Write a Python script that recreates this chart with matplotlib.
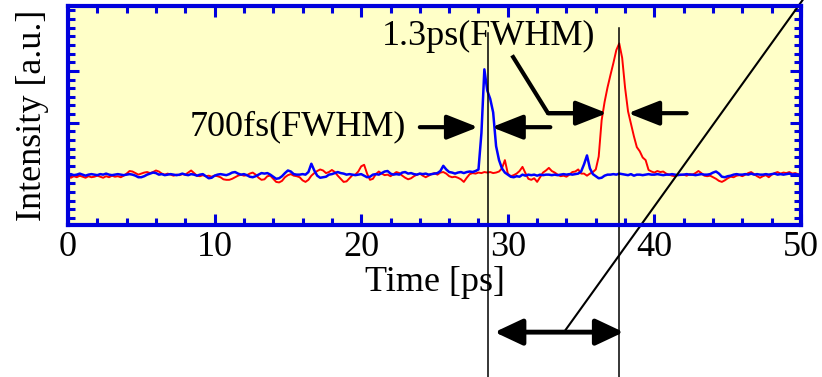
import numpy as np
import matplotlib
matplotlib.use('Agg')
import matplotlib.pyplot as plt
from matplotlib.transforms import blended_transform_factory

plt.rcParams['font.family'] = ['Liberation Serif', 'DejaVu Serif']

# sampling grid of the two traces (ps)
time_ps = np.round(np.arange(0, 50.01, 0.2), 1)

# blue trace (700 fs pulse)
blue = [
    0.00, 0.01, -0.01, 0.00, 0.02, 0.00, -0.02, 0.00, 0.01, 0.00, -0.01, 0.01, 0.00, 0.02, 0.00, -0.01, 0.00, 0.01, 0.00, -0.01, 0.00, 0.01, 0.00, -0.02, -0.05,
    -0.05, -0.03, 0.00, 0.02, 0.04, 0.03, 0.00, 0.01, -0.01, 0.00, 0.01, 0.00, -0.01, 0.00, 0.02, 0.00, -0.01, 0.01, 0.00, -0.02, 0.00, 0.01, -0.03, -0.07, -0.06,
    -0.02, 0.00, 0.01, 0.00, -0.01, 0.01, 0.04, 0.05, 0.02, 0.00, 0.01, -0.01, -0.04, -0.05, -0.03, 0.00, 0.03, 0.02, 0.03, 0.00, -0.04, -0.08, -0.07, -0.03, 0.03,
    0.08, 0.06, 0.01, 0.00, 0.00, 0.01, 0.00, 0.05, 0.21, 0.08, -0.02, -0.06, -0.05, -0.04, 0.00, 0.01, 0.03, 0.05, 0.03, 0.02, 0.00, 0.01, 0.00, -0.01, 0.00,
    0.01, -0.02, -0.05, -0.04, 0.00, 0.01, 0.00, 0.03, 0.06, 0.07, 0.02, 0.00, 0.01, 0.00, 0.04, 0.05, 0.02, 0.03, 0.01, 0.00, 0.02, 0.01, 0.02, 0.00, 0.01,
    0.02, 0.03, 0.07, 0.17, 0.10, 0.05, 0.04, 0.02, 0.04, 0.05, 0.03, 0.05, 0.06, 0.05, 0.07, 0.10, 0.80, 2.03, 1.62, 1.46, 1.20, 0.55, 0.28, 0.12, 0.04,
    0.00, -0.04, -0.05, -0.03, -0.04, 0.00, -0.02, 0.00, -0.01, 0.00, -0.02, 0.00, -0.01, 0.00, 0.00, -0.01, 0.00, -0.01, 0.00, 0.01, 0.00, 0.01, 0.00, 0.01, 0.02,
    0.06, 0.20, 0.37, 0.12, 0.01, -0.03, -0.07, -0.06, -0.02, 0.00, 0.00, 0.01, 0.00, 0.02, 0.01, 0.00, -0.01, 0.01, -0.02, 0.00, 0.00, -0.01, 0.00, 0.01, 0.00,
    0.00, 0.01, 0.00, -0.01, 0.00, 0.00, 0.01, 0.00, -0.01, 0.00, 0.00, 0.01, 0.00, 0.00, -0.01, 0.00, 0.01, 0.00, 0.00, 0.01, 0.04, 0.06, 0.02, -0.04, -0.05,
    -0.03, -0.02, 0.00, 0.01, 0.00, 0.00, 0.01, 0.00, 0.02, 0.00, 0.01, 0.00, 0.00, 0.01, 0.00, 0.01, 0.02, 0.00, 0.01, 0.00, 0.01, 0.02, 0.00, 0.01, 0.00, 0.00,
]

# red trace (1.3 ps pulse)
red = [
    -0.04, -0.06, -0.03, -0.05, -0.02, -0.04, -0.06, -0.03, -0.05, -0.04, -0.02, -0.04, -0.06, -0.03, -0.05, -0.02, -0.04, -0.03, -0.05, -0.02, 0.02, 0.07, 0.06, 0.03, 0.00,
    0.02, 0.04, 0.05, 0.03, 0.05, 0.08, 0.06, 0.02, 0.00, 0.02, 0.00, -0.02, 0.00, -0.01, 0.01, 0.00, 0.04, 0.08, 0.03, -0.02, -0.03, -0.01, -0.03, -0.02, -0.04,
    -0.02, -0.03, -0.05, -0.09, -0.10, -0.10, -0.08, -0.05, -0.02, 0.00, -0.02, -0.01, 0.02, 0.04, 0.00, -0.06, -0.10, -0.09, -0.03, -0.02, -0.08, -0.14, -0.15, -0.12, -0.05,
    -0.01, 0.01, -0.02, -0.03, -0.05, -0.11, -0.14, -0.10, -0.02, 0.03, 0.07, 0.10, 0.08, 0.03, 0.05, 0.09, 0.05, -0.02, -0.08, -0.14, -0.13, -0.07, -0.01, 0.00, 0.06,
    0.16, 0.19, 0.02, -0.10, -0.08, 0.01, 0.06, 0.02, -0.01, 0.00, -0.03, 0.01, 0.05, 0.03, -0.02, -0.06, -0.09, -0.07, -0.03, 0.00, 0.02, -0.02, -0.05, -0.02, 0.01,
    0.03, 0.00, 0.04, 0.05, 0.02, -0.03, -0.05, -0.04, -0.06, -0.09, -0.14, -0.06, 0.01, 0.03, 0.02, 0.04, 0.03, 0.05, 0.04, 0.05, 0.03, 0.04, 0.06, 0.12, 0.28,
    0.02, -0.03, -0.01, 0.02, 0.07, 0.15, 0.03, -0.08, -0.10, -0.07, -0.14, -0.05, 0.04, 0.08, 0.13, 0.07, 0.04, 0.00, -0.03, -0.02, -0.04, 0.00, 0.05, 0.06, 0.10,
    0.02, 0.02, -0.02, 0.02, 0.05, 0.10, 0.35, 1.05, 1.40, 1.68, 1.92, 2.15, 2.40, 2.53, 2.25, 1.67, 1.22, 0.98, 0.74, 0.53, 0.45, 0.33, 0.28, 0.09, 0.06,
    0.04, 0.07, 0.05, 0.06, 0.02, 0.00, -0.02, -0.03, 0.00, -0.01, 0.00, -0.02, 0.01, 0.00, 0.03, 0.07, 0.03, -0.02, -0.03, -0.02, -0.05, -0.08, -0.12, -0.14, -0.11,
    -0.07, -0.04, -0.05, -0.02, -0.01, -0.03, 0.00, 0.03, 0.05, 0.01, -0.03, -0.06, -0.03, -0.01, -0.05, 0.00, 0.03, 0.05, 0.02, 0.04, 0.03, 0.05, 0.02, 0.03, 0.01, 0.00,
]

xticks = [0, 10, 20, 30, 40, 50]
marker_lines = [28.65, 37.6]   # the two vertical guide lines (ps)

fig = plt.figure(figsize=(8.22, 3.77), dpi=100)
ax = fig.add_axes([0.0827, 0.4019, 0.8918, 0.5821])
ax.set_facecolor('#FFFFC8')

ax.plot(time_ps, red, color='#FF0000', lw=1.4)
ax.plot(time_ps, blue, color='#0000FF', lw=1.8)

ax.set_xlim(0, 50)
ax.set_ylim(-0.98, 3.25)
ax.set_xticks(xticks)
ax.set_xticks(np.arange(0, 50.1, 2), minor=True)
ax.set_yticks([0, 1, 2])
ax.set_yticks(np.arange(-5, 20) / 6, minor=True)
ax.set_yticklabels([])
ax.tick_params(which='both', direction='in', top=True, right=True,
               color='#0000DD', width=2.2, labelsize=26, pad=4)
ax.tick_params(which='major', length=8)
ax.tick_params(which='minor', length=5)
for sp in ax.spines.values():
    sp.set_color('#0000DD')
    sp.set_linewidth(3)

ax.set_xlabel('Time [ps]', fontsize=26, va='top')
ax.xaxis.set_label_coords(0.5, -0.185)
ax.set_ylabel('Intensity [a.u.]', fontsize=26)
ax.yaxis.set_label_coords(-0.026, 0.5)

# annotations
ax.text(8.3, 0.93, '700fs(FWHM)', fontsize=26, ha='left', va='center')
ax.text(21.4, 2.67, '1.3ps(FWHM)', fontsize=26, ha='left', va='center')

head = dict(arrowstyle='-|>,head_length=19,head_width=7.5', lw=3, color='k',
            mutation_scale=1, shrinkA=0, shrinkB=0)
ax.annotate('', xy=(27.97, 0.915), xytext=(24.0, 0.915), arrowprops=head)
ax.annotate('', xy=(28.9, 0.915), xytext=(32.9, 0.915), arrowprops=head)
ax.plot([30.29, 32.74, 35.0], [2.30, 1.185, 1.185], color='k', lw=3,
        solid_capstyle='butt')
ax.annotate('', xy=(36.77, 1.185), xytext=(32.74, 1.185), arrowprops=head)
ax.annotate('', xy=(38.2, 1.185), xytext=(42.2, 1.185), arrowprops=head)

trans = blended_transform_factory(ax.transData, fig.transFigure)
ax.plot([marker_lines[0]] * 2, [0.912, 0.0], color='k', lw=1.1,
        transform=trans, clip_on=False)
ax.plot([marker_lines[1]] * 2, [0.926, 0.0], color='k', lw=1.1,
        transform=trans, clip_on=False)
ax.annotate('', xy=(37.9, 0.119), xytext=(29.1, 0.119), xycoords=trans,
            textcoords=trans, annotation_clip=False,
            arrowprops=dict(arrowstyle='<|-|>,head_length=17,head_width=8',
                            lw=3.5, color='k', mutation_scale=1,
                            shrinkA=0, shrinkB=0))
ax.plot([33.83, 50.48], [0.119, 1.02], color='k', lw=1.5,
        transform=trans, clip_on=False)

fig.savefig('out.png', dpi=100)
